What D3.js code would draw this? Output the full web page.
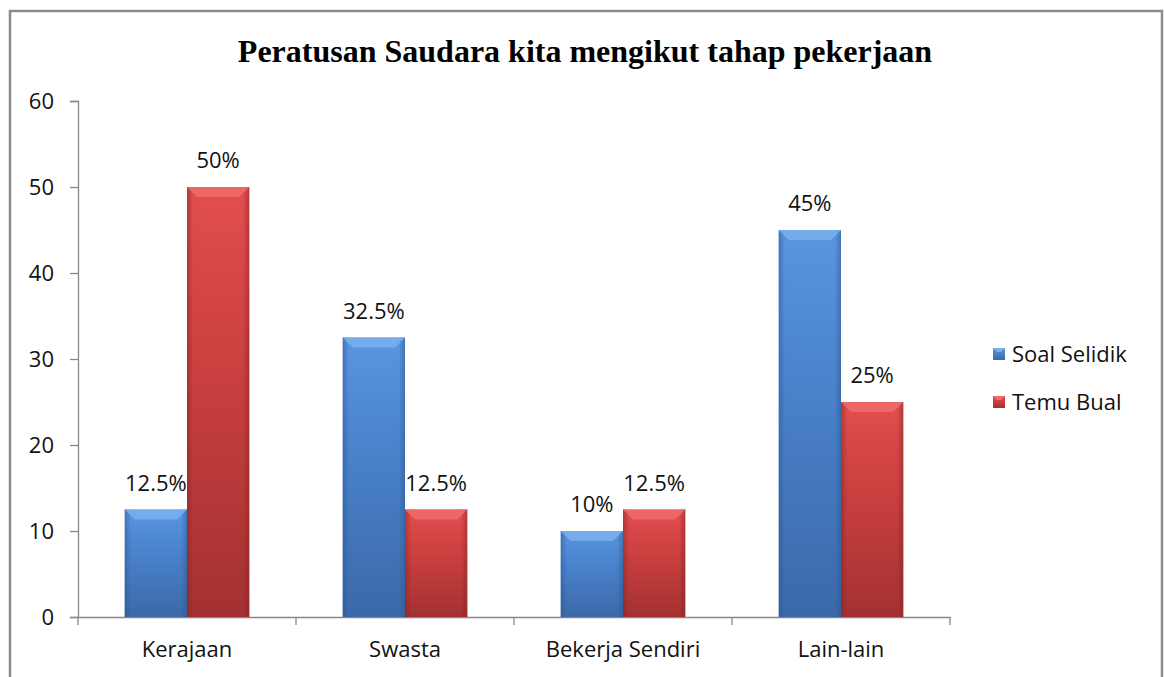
<!DOCTYPE html>
<meta charset="utf-8">
<style>
    body {
        margin: 0;
        background: #fff;
        font-family: 'Open Sans', sans-serif;
    }
</style>
<script src="https://d3js.org/d3.v7.min.js"></script>
<div id="graph"></div>
<script>
    const categories = ["Kerajaan", "Swasta", "Bekerja Sendiri", "Lain-lain"];
    const seriesNames = ["Soal Selidik", "Temu Bual"];
    const soalSelidik = [12.5, 32.5, 10, 45];
    const temuBual = [50, 12.5, 12.5, 25];
    const valueLabels = [["12.5%", "32.5%", "10%", "45%"], ["50%", "12.5%", "12.5%", "25%"]];
    const yTicks = [0, 10, 20, 30, 40, 50, 60];

    const W = 1164, H = 677;
    const margin = {top: 101, left: 78, right: 214, bottom: 60};
    const plotW = W - margin.left - margin.right,
        plotH = H - margin.top - margin.bottom;
    const font = "'Open Sans', sans-serif", fs = 22;

    const svg = d3.select("#graph").append("svg")
        .attr("width", W).attr("height", H);

    const defs = svg.append("defs");
    const palettes = [
        {id: "blue", top: "#5a95e0", mid: "#4a82cc", bot: "#3b69a8", bevel: "#79b0ee", edge: "#2a558f"},
        {id: "red", top: "#e24e4e", mid: "#cc4040", bot: "#a33131", bevel: "#ef6c6c", edge: "#832323"}
    ];
    palettes.forEach(p => {
        const g = defs.append("linearGradient").attr("id", "g-" + p.id)
            .attr("x1", 0).attr("y1", 0).attr("x2", 0).attr("y2", 1);
        g.append("stop").attr("offset", "0%").attr("stop-color", p.top);
        g.append("stop").attr("offset", "40%").attr("stop-color", p.mid);
        g.append("stop").attr("offset", "100%").attr("stop-color", p.bot);
        const s = defs.append("linearGradient").attr("id", "s-" + p.id)
            .attr("x1", 0).attr("y1", 0).attr("x2", 1).attr("y2", 0);
        s.append("stop").attr("offset", "0%").attr("stop-color", p.edge).attr("stop-opacity", 0.5);
        s.append("stop").attr("offset", "10%").attr("stop-color", p.edge).attr("stop-opacity", 0);
        s.append("stop").attr("offset", "90%").attr("stop-color", p.edge).attr("stop-opacity", 0);
        s.append("stop").attr("offset", "100%").attr("stop-color", p.edge).attr("stop-opacity", 0.5);
    });

    // outer frame
    svg.append("path")
        .attr("d", `M10,${H}V11H1162V${H}`)
        .attr("fill", "none").attr("stroke", "#8c8c8c").attr("stroke-width", 2.5);

    svg.append("text")
        .attr("x", 585).attr("y", 62)
        .attr("text-anchor", "middle")
        .attr("font-family", "'Liberation Serif', 'Times New Roman', serif")
        .attr("font-weight", "bold")
        .attr("font-size", 32)
        .attr("fill", "#000")
        .text("Peratusan Saudara kita mengikut tahap pekerjaan");

    const g = svg.append("g").attr("transform", `translate(${margin.left},${margin.top})`);

    const x = d3.scaleBand().domain(categories).range([0, plotW]).paddingInner(0).paddingOuter(0);
    const y = d3.scaleLinear().domain([0, 60]).range([plotH, 0]);

    // group width = 2 bars, gap = 150% of bar width
    const barW = x.bandwidth() / 3.5;
    const xSub = d3.scaleBand().domain(seriesNames).range([0, barW * 2]);

    const yAxis = g.append("g").call(d3.axisLeft(y).tickValues(yTicks).tickSize(8).tickPadding(16));
    yAxis.selectAll("path, line").attr("stroke", "#888").attr("stroke-width", 1.3);
    yAxis.selectAll("text").attr("font-family", font)
        .attr("font-size", fs).attr("fill", "#111");

    const xAxis = g.append("g").attr("transform", `translate(0,${plotH})`)
        .call(d3.axisBottom(x).tickSize(0).tickPadding(24));
    xAxis.select(".domain").attr("stroke", "#888").attr("stroke-width", 1.3);
    xAxis.selectAll("text").attr("font-family", font)
        .attr("font-size", fs).attr("fill", "#111");
    const bounds = categories.map(c => x(c)).concat([plotW]);
    xAxis.selectAll("line.bound").data(bounds).enter().append("line")
        .attr("class", "bound")
        .attr("x1", d => d).attr("x2", d => d)
        .attr("y1", 0).attr("y2", 8)
        .attr("stroke", "#888").attr("stroke-width", 1.3);

    const series = [soalSelidik, temuBual];
    const bevel = 10;

    series.forEach((vals, si) => {
        const p = palettes[si];
        const name = seriesNames[si];
        const bars = g.append("g").selectAll("g").data(vals).enter().append("g")
            .attr("transform", (d, i) => `translate(${x(categories[i]) + (x.bandwidth() - barW * 2) / 2 + xSub(name)},0)`);
        const bw = xSub.bandwidth();
        bars.append("rect")
            .attr("x", 0).attr("y", d => y(d))
            .attr("width", bw).attr("height", d => plotH - y(d))
            .attr("fill", `url(#g-${p.id})`);
        bars.append("rect")
            .attr("x", 0).attr("y", d => y(d))
            .attr("width", bw).attr("height", d => plotH - y(d))
            .attr("fill", `url(#s-${p.id})`);
        // bevelled top
        bars.append("path")
            .attr("d", d => `M0,${y(d)}H${bw}L${bw - bevel},${y(d) + bevel}H${bevel}Z`)
            .attr("fill", p.bevel).attr("opacity", 0.85);
        bars.append("text")
            .attr("x", bw / 2).attr("y", d => y(d) - 19)
            .attr("text-anchor", "middle")
            .attr("font-family", font)
            .attr("font-size", fs).attr("fill", "#111")
            .text((d, i) => valueLabels[si][i]);
    });

    // legend
    const legend = svg.append("g").attr("transform", "translate(993,348)");
    seriesNames.forEach((n, i) => {
        const p = palettes[i];
        const item = legend.append("g").attr("transform", `translate(0,${i * 48})`);
        item.append("rect").attr("width", 12).attr("height", 12).attr("fill", `url(#g-${p.id})`);
        item.append("path").attr("d", "M0,0H12L8,4H4Z").attr("fill", p.bevel);
        item.append("text").attr("x", 19).attr("y", 6).attr("dy", "0.35em")
            .attr("font-family", font)
            .attr("font-size", fs).attr("fill", "#111").text(n);
    });
</script>
